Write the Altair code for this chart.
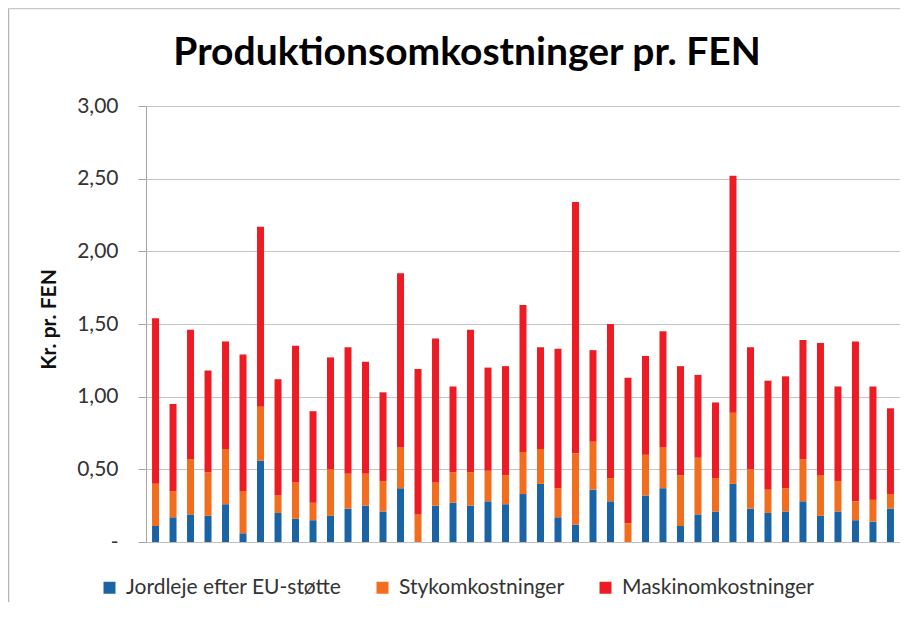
import altair as alt
import pandas as pd

farms = list(range(1, 44))
jordleje = [0.11, 0.17, 0.19, 0.18, 0.26, 0.06, 0.56, 0.20, 0.16, 0.15,
            0.18, 0.23, 0.25, 0.21, 0.37, 0.00, 0.25, 0.27, 0.25, 0.28,
            0.26, 0.33, 0.40, 0.17, 0.12, 0.36, 0.28, 0.00, 0.32, 0.37,
            0.11, 0.19, 0.21, 0.40, 0.23, 0.20, 0.21, 0.28, 0.18, 0.21,
            0.15, 0.14, 0.23]
styk = [0.29, 0.18, 0.38, 0.30, 0.38, 0.29, 0.37, 0.12, 0.25, 0.12,
        0.32, 0.24, 0.22, 0.21, 0.28, 0.19, 0.16, 0.21, 0.23, 0.21,
        0.20, 0.29, 0.24, 0.20, 0.49, 0.33, 0.16, 0.13, 0.28, 0.28,
        0.35, 0.39, 0.23, 0.49, 0.27, 0.16, 0.16, 0.29, 0.28, 0.21,
        0.13, 0.15, 0.10]
maskin = [1.14, 0.60, 0.89, 0.70, 0.74, 0.94, 1.24, 0.80, 0.94, 0.63,
          0.77, 0.87, 0.77, 0.61, 1.20, 1.00, 0.99, 0.59, 0.98, 0.71,
          0.75, 1.01, 0.70, 0.96, 1.73, 0.63, 1.06, 1.00, 0.68, 0.80,
          0.75, 0.57, 0.52, 1.63, 0.84, 0.75, 0.77, 0.82, 0.91, 0.65,
          1.10, 0.78, 0.59]
series = ["Jordleje efter EU-støtte", "Stykomkostninger", "Maskinomkostninger"]
colors = ["#1a64a6", "#f26d1d", "#ed1c24"]
y_ticks = [0, 0.5, 1, 1.5, 2, 2.5, 3]
title_text = "Produktionsomkostninger pr. FEN"
y_title = "Kr. pr. FEN"

rows = []
for i, f in enumerate(farms):
    for k, (name, vals) in enumerate(zip(series, [jordleje, styk, maskin])):
        rows.append({"farm": f, "serie": name, "value": vals[i], "order": k})
df = pd.DataFrame(rows)

FONT = "Lato"

bars = alt.Chart(df).mark_bar().encode(
    x=alt.X("farm:O",
            scale=alt.Scale(paddingInner=0.6, paddingOuter=0.345),
            axis=alt.Axis(labels=False, ticks=False, title=None, grid=False,
                          domainColor="#bfbfbf", domainWidth=1)),
    y=alt.Y("value:Q", stack="zero",
            scale=alt.Scale(domain=[0, 3], nice=False),
            axis=alt.Axis(values=y_ticks, title=y_title,
                          labelExpr="datum.value == 0 ? '-\u00a0\u00a0\u00a0' : replace(format(datum.value, '.2f'), '.', ',')",
                          labelFont=FONT, labelFontSize=21, labelColor="#333333",
                          labelPadding=20, tickSize=8, tickColor="#a6a6a6",
                          domainColor="#a6a6a6", gridColor="#c4c4c4",
                          titleFont=FONT, titleFontSize=21, titleFontWeight="bold",
                          titleColor="#111111", titlePadding=17, titleY=213)),
    color=alt.Color("serie:N",
                    scale=alt.Scale(domain=series, range=colors),
                    legend=alt.Legend(title=None, orient="none", direction="horizontal",
                                      legendX=-47, legendY=471,
                                      symbolType="square", symbolSize=144,
                                      symbolStrokeWidth=0, labelOffset=6,
                                      labelFont=FONT, labelFontSize=21, labelLimit=0,
                                      labelColor="#333333", columnPadding=30,
                                      padding=0)),
    order=alt.Order("order:Q"),
)

frame_df = pd.DataFrame({"k": [0]})
frame_left = alt.Chart(frame_df).mark_rule(color="#b4b4b4", strokeWidth=1.5).encode(
    x=alt.value(-137.5), y=alt.value(-97.5), y2=alt.value(520))
frame_top = alt.Chart(frame_df).mark_rule(color="#c8c8c8", strokeWidth=1.5).encode(
    x=alt.value(-137.5), x2=alt.value(800), y=alt.value(-97.5))

chart = alt.layer(bars, frame_left, frame_top).properties(
    width=754, height=436,
    title=alt.TitleParams(title_text, font=FONT, fontSize=39, fontWeight="bold",
                          color="#000000", anchor="middle", dx=-56, offset=0, dy=65),
    autosize=alt.AutoSizeParams(type="none"),
    padding={"left": 138, "top": 98, "right": 0, "bottom": 60},
).configure_view(stroke="transparent")

chart.save("out.html", embed_options={"renderer": "svg", "actions": False})
